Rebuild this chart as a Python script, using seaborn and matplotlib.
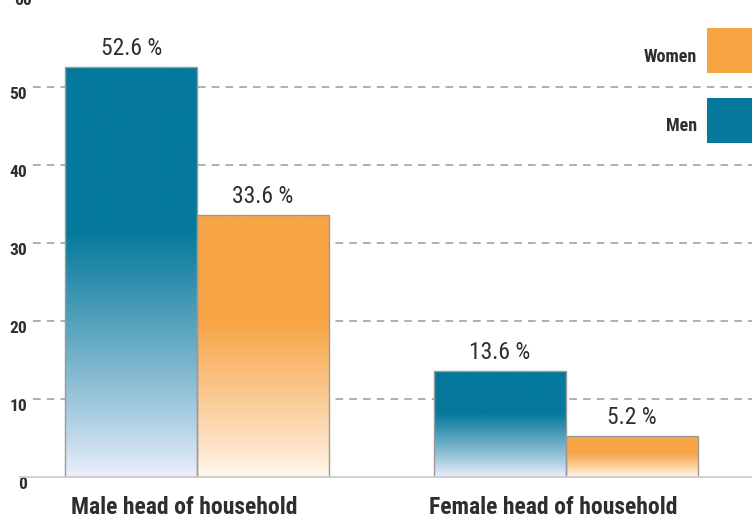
import numpy as np
import pandas as pd
import matplotlib
matplotlib.use('Agg')
import matplotlib.pyplot as plt
import matplotlib.transforms as mtransforms
from matplotlib import font_manager
from matplotlib.patches import Patch
import seaborn as sns

# Dados do gráfico
groups = ['Male head of household', 'Female head of household']
sexes = ['Men', 'Women']
men_pct = [52.6, 13.6]
women_pct = [33.6, 5.2]
y_ticks = [0, 10, 20, 30, 40, 50]

df = pd.DataFrame({
    'group': groups * 2,
    'sex': ['Men'] * len(groups) + ['Women'] * len(groups),
    'pct': men_pct + women_pct,
})

# Cores
colors = {'Men': '#04799b', 'Women': '#f7a445'}
light = {'Men': (0.93, 0.94, 0.99), 'Women': (1.0, 0.97, 0.935)}
text_color = '#2e2e2e'

# Fonte estreita, se houver
available = {f.name for f in font_manager.fontManager.ttflist}
font = 'DejaVu Sans'
for cand in ['Roboto Condensed', 'Liberation Sans Narrow', 'Open Sans Condensed', 'Liberation Sans']:
    if cand in available:
        font = cand
        break

sns.set_style('white')
plt.rcParams['font.family'] = [font, 'DejaVu Sans']

fig = plt.figure(figsize=(7.52, 5.2), dpi=100)
ax = fig.add_axes([20 / 752, 43 / 520, 732 / 752, 477 / 520])

sns.barplot(data=df, x='group', y='pct', hue='sex', order=groups, hue_order=sexes,
            palette=colors, width=0.715, gap=0, edgecolor='#9a9a9a', linewidth=1,
            legend=False, ax=ax, zorder=2)

# Gradiente nas barras
n = 256
t = np.linspace(0, 1, n)
mix = np.clip(t / 0.6, 0, 1) ** 0.9
for container, sex in zip(ax.containers, sexes):
    base = np.array(matplotlib.colors.to_rgb(colors[sex]))
    lo = np.array(light[sex])
    img = (lo[None, :] * (1 - mix[:, None]) + base[None, :] * mix[:, None])[:, None, :]
    for p in container.patches:
        x0, w, h = p.get_x(), p.get_width(), p.get_height()
        im = ax.imshow(img, extent=(x0, x0 + w, 0, h), origin='lower', aspect='auto',
                       zorder=1.9, interpolation='bilinear')
        im.set_clip_path(p)
        p.set_facecolor('none')

    ax.bar_label(container, fmt='{:.1f} %', padding=5, fontsize=17, color=text_color)

# Linhas de grade tracejadas
for y in y_ticks[1:]:
    ax.axhline(y, xmin=0.018, xmax=1, color='#9a9a9a', linewidth=1.1,
               linestyle=(0, (5, 4)), zorder=0)

ax.set_xlim(-0.48, 1.504)
ax.set_ylim(0, 61.15)
ax.set_yticks(y_ticks)
ax.set_yticklabels([str(v) for v in y_ticks], fontsize=12.5, fontweight='bold', color=text_color)
for lab in ax.get_yticklabels():
    lab.set_va('top')
ax.tick_params(axis='y', length=0, pad=-5)
# rótulo "60" cortado no topo, como no original
ax.text(-0.447, 62.0, '60', ha='right', va='top', fontsize=12.5, fontweight='bold',
        color=text_color, transform=ax.transData, clip_on=False)

ax.set_xticks([0, 1])
ax.set_xticklabels(groups, fontsize=17, fontweight='bold', color=text_color)
ax.tick_params(axis='x', length=0, pad=14)
offset = mtransforms.ScaledTranslation(-13 / 100, 0, fig.dpi_scale_trans)
for lab in ax.get_xticklabels():
    lab.set_transform(lab.get_transform() + offset)
ax.set_xticks([-0.48, 0.52], minor=True)
ax.tick_params(axis='x', which='minor', direction='in', length=9, width=1, color='#c4c4c4')

ax.set_xlabel('')
ax.set_ylabel('')
for s in ['top', 'right', 'left']:
    ax.spines[s].set_visible(False)
ax.spines['bottom'].set_color('#c8c8c8')
ax.spines['bottom'].set_linewidth(1.2)

# Legenda
handles = [Patch(facecolor=colors['Women'], edgecolor='none'),
           Patch(facecolor=colors['Men'], edgecolor='none')]
leg = fig.legend(handles, ['Women', 'Men'], loc='upper right',
                 bbox_to_anchor=(752 / 752, 1 - 28 / 520), frameon=False, markerfirst=False,
                 prop={'size': 13, 'weight': 'bold', 'family': [font, 'DejaVu Sans']},
                 handlelength=2.49, handleheight=3.45, labelspacing=1.38, handletextpad=0.55,
                 borderpad=0, borderaxespad=0, labelcolor=text_color)
# texto da legenda um pouco abaixo do centro do quadrado
for txt in leg.get_texts():
    txt.set_transform(txt.get_transform() + mtransforms.ScaledTranslation(0, -6 / 100, fig.dpi_scale_trans))

fig.savefig('out.png', dpi=100)
